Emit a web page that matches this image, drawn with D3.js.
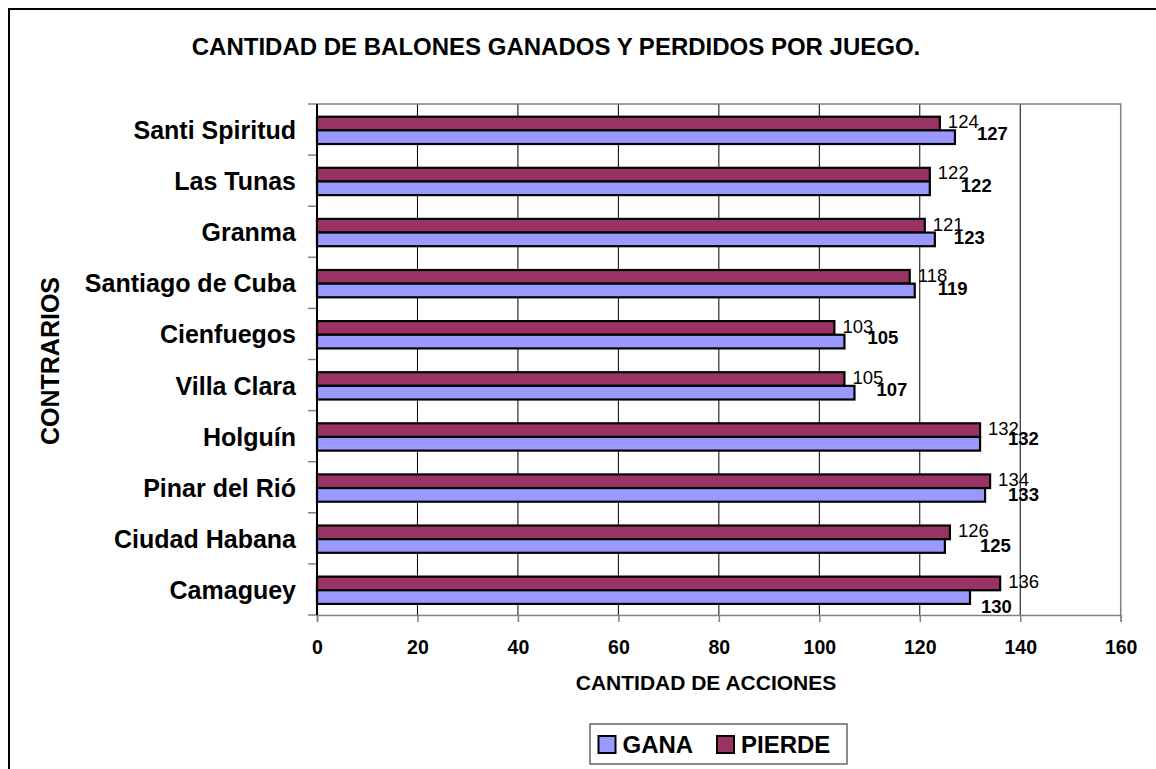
<!DOCTYPE html>
<html>
<head>
<meta charset="utf-8">
<script src="https://cdn.jsdelivr.net/npm/d3@7"></script>
<style>
  html, body { margin: 0; padding: 0; background: #fff; }
  svg { display: block; font-family: "Liberation Sans", Arial, sans-serif; }
</style>
</head>
<body>
<svg id="chart" width="1156" height="769"></svg>
<script>
// Opponents, listed from the bottom of the chart upward
const categories = ["Camaguey", "Ciudad Habana", "Pinar del Rió", "Holguín", "Villa Clara",
                    "Cienfuegos", "Santiago de Cuba", "Granma", "Las Tunas", "Santi Spiritud"];
const gana   = [130, 125, 133, 132, 107, 105, 119, 123, 122, 127];
const pierde = [136, 126, 134, 132, 105, 103, 118, 121, 122, 124];
const xTicks = [0, 20, 40, 60, 80, 100, 120, 140, 160];
const seriesNames = ["GANA", "PIERDE"];

const colors = { GANA: "#9999FF", PIERDE: "#993366" };

// Hand-placed nudges for the bold GANA value labels (px from bar end / band top)
const ganaLabelDx = [13, 37, 25, 30, 24, 25, 25, 21, 33, 24];
const ganaLabelDy = [49.4, 38.9, 39, 34.4, 36.2, 35.9, 37.7, 38, 36.6, 36];

const svg = d3.select("#chart");
const plot = { left: 317, right: 1120.7, top: 104, bottom: 615 };

const x = d3.scaleLinear().domain([0, 160]).range([plot.left, plot.right]);
const y = d3.scaleBand()
  .domain(categories.slice().reverse())
  .range([plot.top, plot.bottom])
  .paddingInner(0).paddingOuter(0);
const ySeries = d3.scaleBand()
  .domain(["PIERDE", "GANA"])
  .range([0, y.bandwidth()])
  .paddingInner(0).paddingOuter(0.872).align(0.534);

// Outer chart frame
svg.append("rect")
  .attr("x", 9).attr("y", 9).attr("width", 1200).attr("height", 820)
  .attr("fill", "none").attr("stroke", "#000").attr("stroke-width", 2);

// Title
svg.append("text")
  .attr("x", 556).attr("y", 55)
  .attr("text-anchor", "middle")
  .attr("font-size", 24).attr("font-weight", "bold")
  .text("CANTIDAD DE BALONES GANADOS Y PERDIDOS POR JUEGO.");

// Vertical gridlines
svg.append("g").selectAll("line")
  .data(xTicks.filter(t => t > 0 && t < 160))
  .join("line")
  .attr("x1", d => x(d)).attr("x2", d => x(d))
  .attr("y1", plot.top).attr("y2", plot.bottom)
  .attr("stroke", "#000").attr("stroke-width", 1);

// Plot area border (top and right)
svg.append("path")
  .attr("d", `M${plot.left},${plot.top}H${plot.right}V${plot.bottom}`)
  .attr("fill", "none").attr("stroke", "#808080").attr("stroke-width", 1.5);

// X axis
const xAxis = svg.append("g")
  .attr("transform", `translate(0,${plot.bottom})`)
  .call(d3.axisBottom(x).tickValues(xTicks).tickSize(7).tickPadding(18).tickFormat(d3.format("d")));
xAxis.select(".domain").attr("stroke", "#808080").attr("stroke-width", 1.5);
xAxis.selectAll(".tick line").attr("stroke", "#808080").attr("stroke-width", 1.5);
xAxis.selectAll(".tick text")
  .attr("font-size", 19.5).attr("font-weight", "bold").attr("fill", "#000")
  .attr("font-family", "Liberation Sans, Arial, sans-serif");

// Y axis ticks at category boundaries
const boundaries = d3.range(categories.length + 1).map(i => plot.top + i * y.step());
svg.append("g").selectAll("line")
  .data(boundaries)
  .join("line")
  .attr("x1", plot.left - 9).attr("x2", plot.left)
  .attr("y1", d => d).attr("y2", d => d)
  .attr("stroke", "#808080").attr("stroke-width", 1.5);

// Category labels
svg.append("g").selectAll("text")
  .data(categories)
  .join("text")
  .attr("x", 296)
  .attr("y", d => y(d) + y.bandwidth() / 2 + 9.5)
  .attr("text-anchor", "end")
  .attr("font-size", 25).attr("font-weight", "bold")
  .text(d => d);

// Bars
const rows = categories.map((c, i) => ({ c, i, GANA: gana[i], PIERDE: pierde[i] }));
const barG = svg.append("g");
["PIERDE", "GANA"].forEach(s => {
  barG.selectAll(null)
    .data(rows)
    .join("rect")
    .attr("x", x(0))
    .attr("y", d => y(d.c) + ySeries(s))
    .attr("width", d => x(d[s]) - x(0))
    .attr("height", ySeries.bandwidth())
    .attr("fill", colors[s])
    .attr("stroke", "#000").attr("stroke-width", 2.2);
});

// Left axis line
svg.append("line")
  .attr("x1", plot.left).attr("x2", plot.left)
  .attr("y1", plot.top).attr("y2", plot.bottom)
  .attr("stroke", "#000").attr("stroke-width", 2);

// Value labels
svg.append("g").selectAll("text")
  .data(rows)
  .join("text")
  .attr("x", d => x(d.PIERDE) + 8)
  .attr("y", d => y(d.c) + 24.3)
  .attr("font-size", 18.5)
  .text(d => d.PIERDE);

svg.append("g").selectAll("text")
  .data(rows)
  .join("text")
  .attr("x", d => x(d.GANA) + ganaLabelDx[d.i] - 2)
  .attr("y", d => y(d.c) + ganaLabelDy[d.i])
  .attr("font-size", 18.5).attr("font-weight", "bold")
  .text(d => d.GANA);

// Axis titles
svg.append("text")
  .attr("x", 706).attr("y", 690)
  .attr("text-anchor", "middle")
  .attr("font-size", 21).attr("font-weight", "bold")
  .text("CANTIDAD DE ACCIONES");

svg.append("text")
  .attr("transform", "translate(59,361) rotate(-90)")
  .attr("text-anchor", "middle")
  .attr("font-size", 25).attr("font-weight", "bold")
  .text("CONTRARIOS");

// Legend
const legend = svg.append("g");
legend.append("rect")
  .attr("x", 590).attr("y", 724).attr("width", 257).attr("height", 40)
  .attr("fill", "#fff").attr("stroke", "#404040").attr("stroke-width", 1.2);
const legendX = { GANA: 598.5, PIERDE: 717 };
seriesNames.forEach(s => {
  legend.append("rect")
    .attr("x", legendX[s]).attr("y", 736)
    .attr("width", 17).attr("height", 17)
    .attr("fill", colors[s]).attr("stroke", "#000").attr("stroke-width", 2);
  legend.append("text")
    .attr("x", legendX[s] + 24).attr("y", 753.3)
    .attr("font-size", 24).attr("font-weight", "bold")
    .text(s);
});
</script>
</body>
</html>
